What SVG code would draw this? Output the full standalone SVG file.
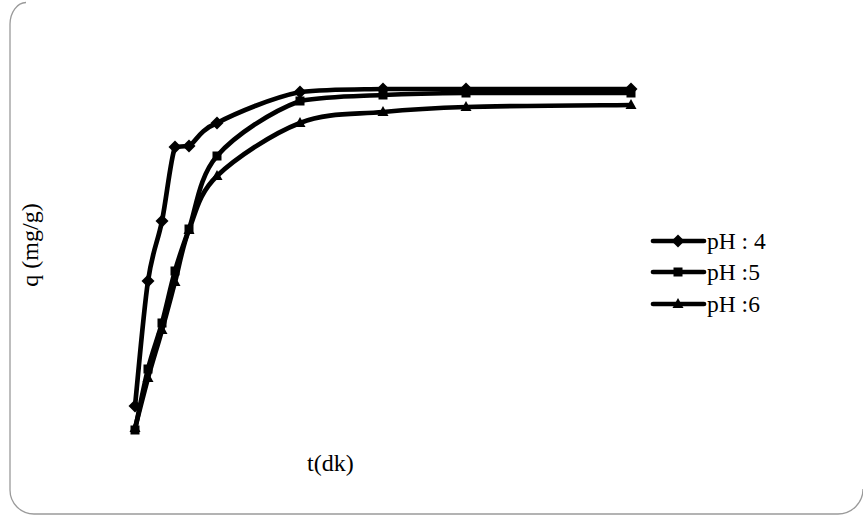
<svg xmlns="http://www.w3.org/2000/svg" xmlns:xlink="http://www.w3.org/1999/xlink" width="863" height="518" viewBox="0 0 863 518">
<style>
.frame{fill:none;stroke:#9a9a9a;stroke-width:1.3}
.ln{fill:none;stroke:#000;stroke-width:4.7;stroke-linejoin:round;stroke-linecap:round}
.mk{fill:#000}
.lbl{font-size:23.5px;fill:#000}
.ax{font-size:24px;fill:#000}
</style>
<defs>
<path id="dia" d="M0,-6.5 L6.5,0 L0,6.5 L-6.5,0Z"/>
<rect id="sq" x="-4.5" y="-4.5" width="9" height="9"/>
<path id="tri" d="M0,-6 L5.5,4 L-5.5,4Z"/>
</defs>
<path class="frame" d="M26,2.5 A16,22 0 0 0 10,24 L10,490 A24,24 0 0 0 34,514 L838,514 A25,25 0 0 0 863,489"/>
<g id="connectors">
<path class="ln" d="M135,406 C137.2,385.2 143.5,311.8 148,281 C152.5,250.2 157.5,243.3 162,221 C166.5,198.7 170.5,159.5 175,147 C178,146.5 184.5,146.3 189,146 C196,142 198.5,130.7 217,123 C235.5,113.3 272.3,97.7 300,92 C327.7,89 355.3,89.5 383,89 L631,89"/>
<path class="ln" d="M135,430 C137.2,419.8 143.5,386.8 148,369 C152.5,351.2 157.5,339.3 162,323 C166.5,306.7 170.5,286.7 175,271 C179.5,255.3 182,248.2 189,229 C196,209.8 198.5,177.3 217,156 C235.5,134.7 272.3,111.2 300,101 C327.7,96 355.3,96.3 383,95 C410.7,93.7 424.7,93.3 466,93 L631,93"/>
<path class="ln" d="M135,428 C137.2,419.7 143.5,394.3 148,378 C152.5,361.7 157.5,346 162,330 C166.5,314 170.5,298.7 175,282 C179.5,265.3 182,247.7 189,230 C196,212.3 198.5,193.8 217,176 C235.5,158.2 272.3,133.7 300,123 C327.7,112.3 355.3,114.7 383,112 C410.7,109.3 424.7,108.2 466,107 C507.3,105.8 603.5,105.3 631,105"/>
</g>
<g id="series-ph4" class="mk">
<use href="#dia" x="135" y="406"/><use href="#dia" x="148" y="281"/><use href="#dia" x="162" y="221"/><use href="#dia" x="175" y="147"/><use href="#dia" x="189" y="146"/><use href="#dia" x="217" y="123"/><use href="#dia" x="300" y="92"/><use href="#dia" x="383" y="89"/><use href="#dia" x="466" y="89"/><use href="#dia" x="631" y="89"/>
</g>
<g id="series-ph5" class="mk">
<use href="#sq" x="135" y="430"/><use href="#sq" x="148" y="369"/><use href="#sq" x="162" y="323"/><use href="#sq" x="175" y="271"/><use href="#sq" x="189" y="229"/><use href="#sq" x="217" y="156"/><use href="#sq" x="300" y="101"/><use href="#sq" x="383" y="95"/><use href="#sq" x="466" y="93"/><use href="#sq" x="631" y="93"/>
</g>
<g id="series-ph6" class="mk">
<use href="#tri" x="135" y="428"/><use href="#tri" x="148" y="378"/><use href="#tri" x="162" y="330"/><use href="#tri" x="175" y="282"/><use href="#tri" x="189" y="230"/><use href="#tri" x="217" y="176"/><use href="#tri" x="300" y="123"/><use href="#tri" x="383" y="112"/><use href="#tri" x="466" y="107"/><use href="#tri" x="631" y="105"/>
</g>
<g id="legend" font-family="'Liberation Serif', 'DejaVu Serif', serif">
<g id="legend-ph4"><line class="ln" x1="653" y1="241" x2="704" y2="241"/><use class="mk" href="#dia" x="678" y="241"/><text class="lbl" x="707" y="249">pH : 4</text></g>
<g id="legend-ph5"><line class="ln" x1="653" y1="272" x2="704" y2="272"/><use class="mk" href="#sq" x="678" y="272"/><text class="lbl" x="707" y="280">pH :5</text></g>
<g id="legend-ph6"><line class="ln" x1="653" y1="304" x2="704" y2="304"/><use class="mk" href="#tri" x="678" y="304"/><text class="lbl" x="707" y="312">pH :6</text></g>
</g>
<g id="axis-labels" font-family="'Liberation Serif', 'DejaVu Serif', serif">
<text class="ax" x="0" y="0" text-anchor="middle" transform="translate(38,245) rotate(-90)">q (mg/g)</text>
<text class="ax" x="307" y="471">t(dk)</text>
</g>
</svg>
